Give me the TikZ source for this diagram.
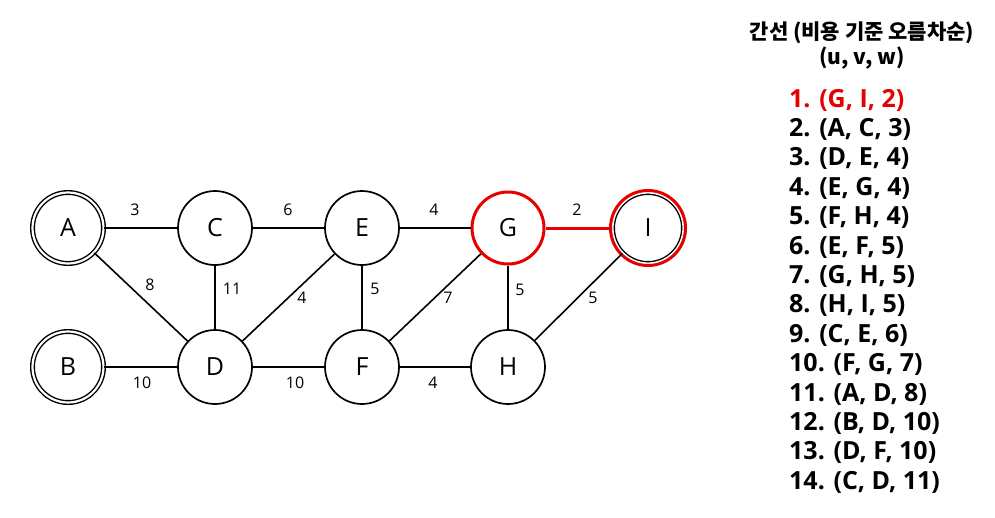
\documentclass[tikz,border=0pt]{standalone}
\usepackage{fontspec}
\setmainfont{Open Sans}
\newfontfamily\krfont{Noto Sans CJK KR}
\definecolor{kred}{RGB}{230,0,0}
\tikzset{
  vtx/.style={circle,draw=black,line width=1.7pt,minimum size=74pt,inner sep=0pt,font=\fontsize{25}{27}\selectfont,fill=white},
  dbl/.style={vtx,double=white,double distance=2.2pt,line width=1.4pt,minimum size=71pt},
  edge/.style={line width=1.6pt,draw=black},
  wt/.style={font=\fontsize{16}{18}\selectfont,inner sep=0pt},
  lst/.style={font=\bfseries\fontsize{25}{27}\selectfont,anchor=west,inner sep=0pt},
  ttl/.style={font=\krfont\bfseries\fontsize{21}{23}\selectfont,inner sep=0pt},
}
\begin{document}
\begin{tikzpicture}[x=1pt,y=-1pt]
\useasboundingbox (0,0) rectangle (995,517);
\fill[white] (0,0) rectangle (995,517);
% nodes
\node[dbl] (A) at (68,228) {A};
\node[vtx] (C) at (215,228) {C};
\node[vtx] (E) at (362,228) {E};
\node[vtx,draw=kred,line width=3pt,minimum size=72pt] (G) at (508,228) {G};
\node[dbl] (I) at (648,228) {I};
\draw[kred,line width=3pt] (I.center) circle (37.5pt);
\node[dbl] (B) at (68,367) {B};
\node[vtx] (D) at (215,367) {D};
\node[vtx] (F) at (362,367) {F};
\node[vtx] (H) at (508,367) {H};
% edges
\draw[edge] (A) -- (C);
\draw[edge] (C) -- (E);
\draw[edge] (E) -- (G);
\draw[kred,line width=3pt] (G) -- (I);
\draw[edge] (A) -- (D);
\draw[edge] (C) -- (D);
\draw[edge] (E) -- (D);
\draw[edge] (E) -- (F);
\draw[edge] (G) -- (F);
\draw[edge] (G) -- (H);
\draw[edge] (I) -- (H);
\draw[edge] (B) -- (D);
\draw[edge] (D) -- (F);
\draw[edge] (F) -- (H);
% weights
\node[wt] (w1) at (135,210) {3};
\node[wt] (w2) at (288,210) {6};
\node[wt] (w3) at (434,210) {4};
\node[wt] (w4) at (577,210) {2};
\node[wt] (w5) at (150,285) {8};
\node[wt] (w6) at (232,289) {11};
\node[wt] (w7) at (302,298) {4};
\node[wt] (w8) at (375,289) {5};
\node[wt] (w9) at (448,298) {7};
\node[wt] (w10) at (520,290) {5};
\node[wt] (w11) at (593,298) {5};
\node[wt] (w12) at (142,383) {10};
\node[wt] (w13) at (295,383) {10};
\node[wt] (w14) at (433,383) {4};
% legend
\node[ttl] (t1) at (862,33) {간선 (비용 기준 오름차순)};
\node[ttl] (t2) at (862,58) {(u, v, w)};
\node[lst,text=kred] (l1) at (789,100) {1. (G, I, 2)};
\node[lst] (l2) at (789,129.4) {2. (A, C, 3)};
\node[lst] (l3) at (789,158.8) {3. (D, E, 4)};
\node[lst] (l4) at (789,188.2) {4. (E, G, 4)};
\node[lst] (l5) at (789,217.6) {5. (F, H, 4)};
\node[lst] (l6) at (789,247) {6. (E, F, 5)};
\node[lst] (l7) at (789,276.4) {7. (G, H, 5)};
\node[lst] (l8) at (789,305.8) {8. (H, I, 5)};
\node[lst] (l9) at (789,335.2) {9. (C, E, 6)};
\node[lst] (l10) at (789,364.6) {10. (F, G, 7)};
\node[lst] (l11) at (789,394) {11. (A, D, 8)};
\node[lst] (l12) at (789,423.4) {12. (B, D, 10)};
\node[lst] (l13) at (789,452.8) {13. (D, F, 10)};
\node[lst] (l14) at (789,482.2) {14. (C, D, 11)};
\end{tikzpicture}
\end{document}
